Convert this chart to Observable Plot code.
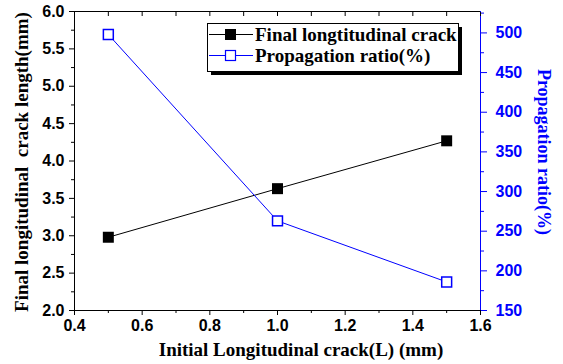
<!DOCTYPE html>
<html><head><meta charset="utf-8">
<script src="https://cdn.jsdelivr.net/npm/d3@7"></script>
<script src="https://cdn.jsdelivr.net/npm/@observablehq/plot@0.6"></script>
<style>body{margin:0;background:#fff} #chart{width:563px;height:364px}</style>
</head><body><div id="chart"></div>
<script>
// ---- data ----
const initialCrack = [0.5, 1.0, 1.5];
const finalCrackLength = [2.98, 3.63, 4.27];
const propagationRatio = [498, 263, 186];
const xTicks = [0.4, 0.6, 0.8, 1.0, 1.2, 1.4, 1.6];
const xMinorTicks = [0.5, 0.7, 0.9, 1.1, 1.3, 1.5];
const leftTicks = [2.0, 2.5, 3.0, 3.5, 4.0, 4.5, 5.0, 5.5, 6.0];
const leftMinorTicks = [2.25, 2.75, 3.25, 3.75, 4.25, 4.75, 5.25, 5.75];
const rightTicks = [150, 200, 250, 300, 350, 400, 450, 500];
const rightMinorTicks = [175, 225, 275, 325, 375, 425, 475, 525];
const xDomain = [0.4, 1.6];
const leftDomain = [2, 6];
const rightDomain = [150, 527];
const seriesNames = ["Final longtitudinal crack", "Propagation ratio(%)"];
const seriesColors = ["black", "blue"];
const xTitle = "Initial Longitudinal crack(L) (mm)";
const leftTitle = "Final longitudinal  crack length(mm)";
const rightTitle = "Propagation ratio(%)";

const rows = initialCrack.map((x, i) => ({x, len: finalCrackLength[i], ratio: propagationRatio[i]}));
const toLeft = d3.scaleLinear().domain(rightDomain).range(leftDomain);

const W = 563, H = 364;
const mL = 74, mR = 83, mT = 11, mB = 54;
const serif = "'Liberation Serif', 'Times New Roman', serif";
const sans = "'Liberation Sans', Arial, sans-serif";
const empty = () => "";

const plot = Plot.plot({
  width: W, height: H,
  marginLeft: mL, marginRight: mR, marginTop: mT, marginBottom: mB,
  x: {domain: xDomain},
  y: {domain: leftDomain},
  style: {fontFamily: sans, fontSize: "16px", fontWeight: "bold", background: "white", overflow: "visible"},
  marks: [
    Plot.frame({stroke: "black"}),
    Plot.ruleX([xDomain[1]], {stroke: "blue"}),
    Plot.axisX(xTicks, {tickSize: 5, tickPadding: 4, tickFormat: d3.format(".1f"), label: null, fill: "black"}),
    Plot.axisX(xMinorTicks, {tickSize: 3, tickFormat: empty, label: null}),
    Plot.axisX(xTicks.concat(xMinorTicks), {anchor: "top", tickSize: -4, tickFormat: empty, label: null}),
    Plot.axisY(leftTicks, {tickSize: 5, tickPadding: 5, tickFormat: d3.format(".1f"), label: null, fill: "black"}),
    Plot.axisY(leftMinorTicks, {tickSize: 3, tickFormat: empty, label: null}),
    Plot.axisY(rightTicks.map(toLeft), {anchor: "right", tickSize: 6, tickPadding: 9, stroke: "blue", fill: "blue",
      tickFormat: d => String(Math.round(toLeft.invert(d))), label: null}),
    Plot.axisY(rightMinorTicks.map(toLeft), {anchor: "right", tickSize: 3, stroke: "blue", tickFormat: empty, label: null}),
    Plot.line(rows, {x: "x", y: "len", stroke: seriesColors[0], strokeWidth: 1}),
    Plot.line(rows, {x: "x", y: d => toLeft(d.ratio), stroke: seriesColors[1], strokeWidth: 1}),
    Plot.dot(rows, {x: "x", y: "len", symbol: "square", r: 6.2, fill: seriesColors[0], stroke: "none"}),
    Plot.dot(rows, {x: "x", y: d => toLeft(d.ratio), symbol: "square", r: 5.6, fill: "white", stroke: seriesColors[1], strokeWidth: 1.5})
  ]
});
document.getElementById("chart").appendChild(plot);

const svg = d3.select(plot);
// axis titles
svg.append("text").text(xTitle)
  .attr("x", 301).attr("y", 356).attr("text-anchor", "middle")
  .attr("font-family", serif).attr("font-size", 19).attr("font-weight", "bold").attr("fill", "black");
svg.append("text").text(leftTitle)
  .attr("transform", "translate(28,162) rotate(-90)").attr("text-anchor", "middle")
  .style("white-space", "pre")
  .attr("font-family", serif).attr("font-size", 19).attr("font-weight", "bold").attr("fill", "black");
svg.append("text").text(rightTitle)
  .attr("transform", "translate(538,152) rotate(90)").attr("text-anchor", "middle")
  .attr("font-family", serif).attr("font-size", 18).attr("font-weight", "bold").attr("fill", "blue");

// legend
const lg = svg.append("g").attr("text-anchor", "start");
lg.append("rect").attr("x", 211).attr("y", 27).attr("width", 251).attr("height", 48).attr("fill", "black");
lg.append("rect").attr("x", 207.5).attr("y", 23.5).attr("width", 251).attr("height", 48).attr("fill", "white").attr("stroke", "black");
seriesNames.forEach((name, i) => {
  const cy = 34.5 + i * 21;
  lg.append("line").attr("x1", 209).attr("x2", 253).attr("y1", cy).attr("y2", cy)
    .attr("stroke", seriesColors[i]).attr("stroke-width", 1);
  if (i === 0) {
    lg.append("rect").attr("x", 225).attr("y", cy - 5.5).attr("width", 11).attr("height", 11).attr("fill", "black");
  } else {
    lg.append("rect").attr("x", 225.5).attr("y", cy - 5).attr("width", 10).attr("height", 10)
      .attr("fill", "white").attr("stroke", "blue").attr("stroke-width", 1.2);
  }
  lg.append("text").text(name).attr("x", 255).attr("y", cy + 6).attr("text-anchor", "start")
    .attr("font-family", serif).attr("font-size", 19).attr("font-weight", "bold").attr("fill", "black");
});
</script>
</body></html>
